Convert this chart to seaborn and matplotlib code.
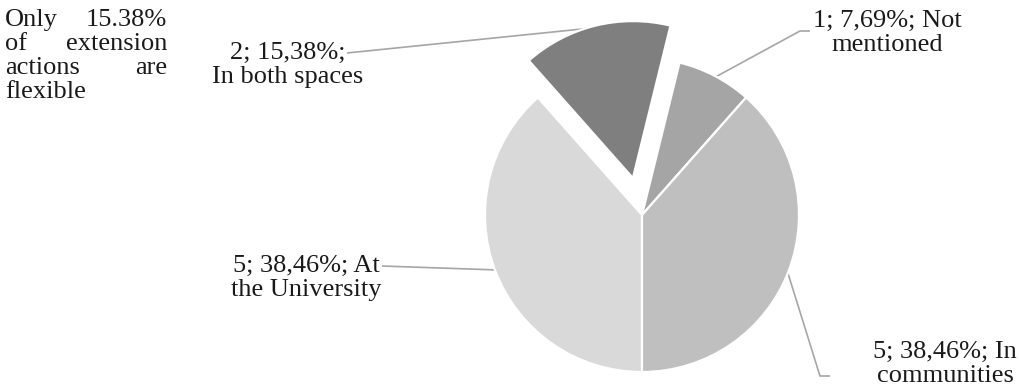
import numpy as np
import matplotlib
matplotlib.use("Agg")
import matplotlib.pyplot as plt
import seaborn as sns

# ---- data ----
categories = ["At the University", "In both spaces", "Not mentioned", "In communities"]
counts = [5, 2, 1, 5]
label_texts = ["5; 38,46%; At\nthe University",
               "2; 15,38%;\nIn both spaces",
               "1; 7,69%; Not\nmentioned",
               "5; 38,46%; In\ncommunities"]
note_lines = [["Only", "15.38%"], ["of", "extension"], ["actions", "are"], ["flexible"]]

# ---- style ----
slice_colors = ["#d9d9d9", "#7f7f7f", "#a5a5a5", "#bfbfbf"]
explode_px = [0, 38, 0, 0]
sns.set_theme(style="white")
plt.rcParams["font.family"] = ["Liberation Serif", "DejaVu Serif"]
FS = 19
TXT = "#1a1a1a"
LEAD = "#a6a6a6"
LINE_STEP = 24

W, H = 1019, 387
fig = plt.figure(figsize=(W / 100, H / 100), dpi=100)
ax = fig.add_axes([0, 0, 1, 1])


def P(x, y):
    return (x, H - y)


wedges, _ = ax.pie(counts, colors=slice_colors, startangle=-90, counterclock=False,
                   center=P(642, 215), radius=157, explode=explode_px,
                   wedgeprops=dict(edgecolor="white", linewidth=1.6))
ax.set_xlim(0, W)
ax.set_ylim(0, H)
ax.set_aspect("auto")
ax.axis("off")

# label layout (pixel positions): text centre x, first-line baseline y, leader elbow points
label_layout = [
    ((306, 272), [(382, 266)]),
    ((288, 59), [(347, 53)]),
    ((887, 27), [(800, 31), (810, 31)]),
    ((945, 358), [(820, 376), (830, 376)]),
]

for w, txt, (tpos, pts) in zip(wedges, label_texts, label_layout):
    mid = np.deg2rad((w.theta1 + w.theta2) / 2)
    cx, cy = w.center
    ax_pt = (cx + (w.r - 2) * np.cos(mid), cy + (w.r - 2) * np.sin(mid))
    path = [ax_pt] + [P(*p) for p in pts]
    xs, ys = zip(*path)
    ax.plot(xs, ys, color=LEAD, lw=1.2, solid_capstyle="butt", zorder=0.5)
    for i, line in enumerate(txt.split("\n")):
        ax.text(*P(tpos[0], tpos[1] + i * LINE_STEP), line, ha="center", va="baseline",
                fontsize=FS, color=TXT)

# justified note on the left
left_x, right_x = 5, 167
baselines = [26, 50, 74, 98]
for words, by in zip(note_lines, baselines):
    ax.text(*P(left_x, by), words[0], ha="left", va="baseline", fontsize=FS, color=TXT)
    if len(words) > 1:
        ax.text(*P(right_x, by), words[-1], ha="right", va="baseline", fontsize=FS, color=TXT)

fig.savefig("out.png", dpi=100, facecolor="white")
